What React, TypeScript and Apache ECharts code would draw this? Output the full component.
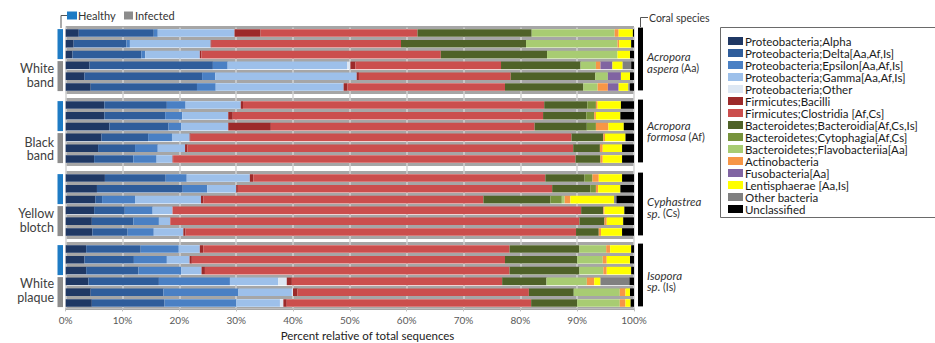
import React, { useEffect, useRef } from 'react';
import * as echarts from 'echarts';

// ---------- DATA ----------
const groupNames = ['White band', 'Black band', 'Yellow blotch', 'White plaque'];
const speciesItalic = [['Acropora', 'aspera'], ['Acropora', 'formosa'], ['Cyphastrea', 'sp.'], ['Isopora', 'sp.']];
const speciesCodes = ['(Aa)', '(Af)', '(Cs)', '(Is)'];
const sampleLabels = ['Healthy 1', 'Healthy 2', 'Healthy 3', 'Infected 1', 'Infected 2', 'Infected 3'];
const tickLabels = ['0%', '10%', '20%', '30%', '40%', '50%', '60%', '70%', '80%', '90%', '100%'];

const taxa = [
  'Proteobacteria;Alpha',
  'Proteobacteria;Delta[Aa,Af,Is]',
  'Proteobacteria;Epsilon[Aa,Af,Is]',
  'Proteobacteria;Gamma[Aa,Af,Is]',
  'Proteobacteria;Other',
  'Firmicutes;Bacilli',
  'Firmicutes;Clostridia [Af,Cs]',
  'Bacteroidetes;Bacteroidia[Af,Cs,Is]',
  'Bacteroidetes;Cytophagia[Af,Cs]',
  'Bacteroidetes;Flavobacteriia[Aa]',
  'Actinobacteria',
  'Fusobacteria[Aa]',
  'Lentisphaerae [Aa,Is]',
  'Other bacteria',
  'Unclassified',
];

const alpha = [2.3, 1.4, 1.2, 4.2, 3.3, 4.4, 6.8, 6.8, 7.7, 6.3, 5.7, 5.0, 6.9, 5.5, 5.2, 5.0, 4.6, 4.7, 3.6, 3.3, 3.6, 4.0, 4.4, 4.6];
const delta = [13.2, 9.3, 12.1, 21.7, 20.7, 18.7, 11.0, 10.7, 10.4, 8.2, 6.5, 6.9, 10.7, 15.1, 1.2, 5.4, 7.3, 6.2, 9.6, 8.7, 9.2, 12.4, 12.8, 12.8];
const epsilon = [0.7, 0.6, 0.7, 2.6, 2.3, 3.3, 3.3, 3.0, 2.2, 4.2, 4.0, 4.1, 3.7, 4.3, 5.8, 4.9, 4.5, 4.6, 6.7, 5.8, 7.5, 12.5, 13.2, 12.6];
const gamma = [13.5, 14.2, 9.6, 21.0, 24.9, 22.5, 9.7, 8.1, 8.3, 3.1, 4.8, 2.8, 11.1, 5.1, 11.6, 3.5, 2.0, 5.2, 3.7, 4.0, 3.6, 8.5, 9.4, 7.7];
const protOther = [0, 0, 0, 0.6, 0, 0, 0, 0, 0, 0, 0, 0, 0, 0, 0, 0, 0, 0, 0, 0, 0, 1.5, 0.2, 0.6];
const bacilli = [4.6, 0.2, 0.3, 0.9, 0.4, 0.7, 0.4, 0.8, 7.5, 0.2, 0.4, 0.1, 0.6, 0.3, 0.4, 0, 0, 0.4, 0.6, 0.4, 0.6, 0.9, 0.8, 0.6];
const clostridia = [27.6, 33.3, 42.1, 25.6, 26.7, 27.7, 53.0, 54.6, 46.4, 67.0, 67.9, 70.8, 51.4, 55.3, 49.3, 71.9, 72.0, 68.7, 53.9, 55.1, 53.6, 37.0, 40.7, 43.0];
const bacteroidia = [20.1, 22.0, 18.7, 14.0, 14.9, 13.8, 7.6, 7.6, 9.2, 5.6, 4.7, 4.4, 6.9, 6.7, 11.8, 3.9, 4.4, 4.0, 12.3, 12.7, 12.3, 7.8, 7.9, 8.1];
const cytophagia = [0, 0, 0, 0, 0, 0, 1.5, 1.4, 1.6, 0, 0, 0, 1.4, 1.0, 2.0, 0, 0, 0, 0, 0, 0, 0, 0, 0];
const flavo = [14.6, 16.1, 12.4, 2.7, 2.2, 2.5, 0, 0, 0, 0, 0, 0, 0, 0, 0.5, 0, 0, 0, 4.7, 4.5, 4.2, 7.1, 8.1, 7.5];
const actino = [0.7, 0.3, 0, 0.8, 0, 1.8, 0.3, 0.3, 2.2, 0.3, 0.5, 0.4, 1.1, 0.4, 1.0, 0.2, 0.4, 0.4, 0.7, 0.7, 0.6, 1.3, 1.0, 1.0];
const fuso = [0, 0, 0, 2.1, 2.3, 1.9, 0, 0, 0, 0, 0, 0, 0, 0, 0, 0, 0, 0, 0, 0, 0, 0, 0, 0];
const lenti = [2.5, 2.1, 2.2, 1.8, 1.6, 1.7, 4.1, 4.3, 2.7, 3.6, 3.4, 3.4, 4.1, 3.9, 7.7, 3.5, 2.9, 3.7, 3.7, 4.1, 4.3, 1.1, 0.8, 0.9];
const otherBact = [0, 0, 0, 1.5, 0, 0.3, 0, 0, 0, 0, 0, 0, 0, 0, 0.4, 0, 0, 0, 0, 0, 0, 5.1, 0, 0];
const unclassified = [0.2, 0.5, 0.7, 0.5, 0.7, 0.7, 2.3, 2.4, 1.8, 1.5, 2.1, 2.1, 2.1, 2.4, 3.1, 1.7, 1.9, 2.1, 0.5, 0.7, 0.5, 0.8, 0.7, 0.6];

const seriesValues = [alpha, delta, epsilon, gamma, protOther, bacilli, clostridia, bacteroidia, cytophagia, flavo, actino, fuso, lenti, otherBact, unclassified];

const colors = [
  '#1f3864', '#2f5d9b', '#4a80c4', '#9dc0ea', '#dde7f3',
  '#9c2a2a', '#cb4e4d',
  '#4f6228', '#77933c', '#a8cc72',
  '#f79646', '#8064a2', '#ffff00', '#808080', '#000000',
];

// ---------- LAYOUT ----------
const FONT = 'Lato, "Noto Sans", sans-serif';
const X0 = 65.7;
const X1 = 634;
const ROW = 10.8;
const groupTops = [27.6, 99.6, 172.6, 243.6];
const groupLabelCenter = [75.5, 149, 220.5, 290.5];
const speciesCenter = [62.5, 131, 207.5, 281];

export default function App() {
  const ref = useRef<HTMLDivElement>(null);

  useEffect(() => {
    document.body.style.margin = '0';
    if (!ref.current) return;
    const chart = echarts.init(ref.current, null, { renderer: 'svg' });

    const grids: any[] = groupTops.map((t) => ({ left: X0, width: X1 - X0, top: t, height: ROW * 6 }));
    const bottomY = groupTops[3] + ROW * 6;
    grids.push({ left: X0, width: X1 - X0, top: groupTops[0], height: bottomY - groupTops[0] });

    const xAxes: any[] = groupTops.map((_, k) => ({
      gridIndex: k, type: 'value', min: 0, max: 100, show: false,
    }));
    xAxes.push({
      gridIndex: 4, type: 'value', min: 0, max: 100, interval: 10,
      axisLine: { show: true, lineStyle: { color: '#bdbdbd', width: 1 } },
      axisTick: { show: true, length: 3, lineStyle: { color: '#bdbdbd' } },
      axisLabel: {
        margin: 7, fontSize: 10, color: '#595959', fontFamily: FONT,
        formatter: (v: number) => tickLabels[Math.round(v / 10)] ?? '',
      },
      splitLine: { show: true, lineStyle: { color: '#d2d2d2', width: 1.5 } },
    });

    const yAxes: any[] = groupTops.map((_, k) => ({
      gridIndex: k, type: 'category', data: sampleLabels, inverse: true,
      axisLine: { show: false }, axisTick: { show: false }, axisLabel: { show: false },
      splitLine: { show: true, interval: 0, lineStyle: { color: '#a6a6a6', width: 3 } },
    }));
    yAxes.push({
      gridIndex: 4, type: 'value', min: 0, max: 1,
      axisLine: { show: false }, axisTick: { show: false }, axisLabel: { show: false }, splitLine: { show: false },
    });

    const series: any[] = [];
    taxa.forEach((name, t) => {
      groupTops.forEach((_, k) => {
        series.push({
          type: 'bar', name, stack: 'g' + k, xAxisIndex: k, yAxisIndex: k,
          barWidth: 7.6,
          data: seriesValues[t].slice(k * 6, k * 6 + 6),
          itemStyle: { color: colors[t] },
          emphasis: { disabled: true },
        });
      });
    });

    const graphic: any[] = [];
    // top-left legend (Healthy / Infected)
    graphic.push({ type: 'polyline', shape: { points: [[61, 28], [61, 15.5], [67, 15.5]] }, style: { stroke: '#555', lineWidth: 1, fill: 'none' } });
    graphic.push({ type: 'rect', shape: { x: 67, y: 11.5, width: 10, height: 8 }, style: { fill: '#1e7bc4' } });
    graphic.push({ type: 'text', style: { text: 'Healthy', x: 78, y: 15.5, fontSize: 11, fontFamily: FONT, fill: '#333', textVerticalAlign: 'middle' } });
    graphic.push({ type: 'rect', shape: { x: 124, y: 11.5, width: 9, height: 8 }, style: { fill: '#8c8c8c' } });
    graphic.push({ type: 'text', style: { text: 'Infected', x: 135, y: 15.5, fontSize: 11, fontFamily: FONT, fill: '#333', textVerticalAlign: 'middle' } });

    // coral species header
    graphic.push({ type: 'polyline', shape: { points: [[640.5, 27], [640.5, 17.5], [648, 17.5]] }, style: { stroke: '#555', lineWidth: 1, fill: 'none' } });
    graphic.push({ type: 'text', style: { text: 'Coral species', x: 649, y: 17.5, fontSize: 10.5, fontFamily: FONT, fill: '#333', textVerticalAlign: 'middle' } });

    groupTops.forEach((t, k) => {
      // left healthy / infected markers
      graphic.push({ type: 'rect', shape: { x: 57.5, y: t + 1.5, width: 5.5, height: 30 }, style: { fill: '#1e7bc4' } });
      graphic.push({ type: 'rect', shape: { x: 57.5, y: t + 33.5, width: 5.5, height: 30 }, style: { fill: '#8c8c8c' } });
      // group labels (two lines in one text)
      graphic.push({
        type: 'text',
        style: {
          text: groupNames[k].split(' ').join('\n'), x: 54, y: groupLabelCenter[k],
          fontSize: 12.5, lineHeight: 13.5, fontFamily: FONT, fill: '#404040', textAlign: 'right', textVerticalAlign: 'middle',
        },
      });
      // right black species brackets
      graphic.push({ type: 'rect', shape: { x: 638, y: t, width: 5, height: ROW * 6 - 2 }, style: { fill: '#000' } });
      // species labels (two lines in one rich text)
      graphic.push({
        type: 'text',
        style: {
          text: '{i|' + speciesItalic[k][0] + '}\n{i|' + speciesItalic[k][1] + '}{n| ' + speciesCodes[k] + '}',
          x: 647, y: speciesCenter[k], fontSize: 11.5, lineHeight: 11.5, fontFamily: FONT, fill: '#333', textVerticalAlign: 'middle',
          rich: {
            i: { fontStyle: 'italic', fontSize: 11.5, lineHeight: 11.5, fontFamily: FONT, fill: '#333' },
            n: { fontSize: 10.5, lineHeight: 11.5, fontFamily: FONT, fill: '#333' },
          },
        },
      });
    });

    // legend box
    graphic.push({ type: 'rect', shape: { x: 720.5, y: 27.5, width: 240, height: 190 }, style: { fill: 'none', stroke: '#6a6a6a', lineWidth: 1 } });
    // axis title
    graphic.push({ type: 'text', style: { text: 'Percent relative of total sequences', x: 367.5, y: 335.5, fontSize: 11.5, fontFamily: FONT, fill: '#222', textAlign: 'center', textVerticalAlign: 'middle' } });

    chart.setOption({
      animation: false,
      backgroundColor: '#fff',
      grid: grids,
      xAxis: xAxes,
      yAxis: yAxes,
      series,
      legend: {
        data: taxa,
        orient: 'vertical',
        left: 728,
        top: 35,
        itemWidth: 15,
        itemHeight: 8,
        itemGap: 0,
        icon: 'rect',
        selectedMode: false,
        padding: 0,
        textStyle: { fontSize: 11.5, lineHeight: 11.5, fontFamily: FONT, color: '#1a1a1a', padding: [0, 0, 0, -3] },
      },
      graphic,
    });

    return () => chart.dispose();
  }, []);

  return <div ref={ref} style={{ width: 935, height: 343 }} />;
}
